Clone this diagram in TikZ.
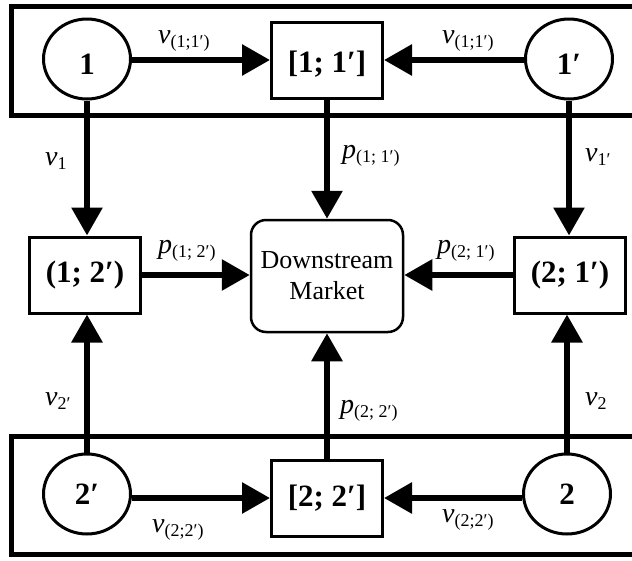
\documentclass[tikz,border=0pt]{standalone}
\usepackage{fontspec}
\setmainfont{Liberation Serif}
\usetikzlibrary{arrows.meta,shapes.geometric}

% font size helper and variable labels (italic symbol with a lowered index)
\newcommand\fsz[1]{\fontsize{#1}{#1}\selectfont}
\newcommand\varlab[2]{{\fsz{28}\itshape #1}\raisebox{-4pt}{\fsz{18}#2}}

\begin{document}
\begin{tikzpicture}[x=1pt,y=-1pt,
  frame/.style={draw, line width=5pt},
  agent/.style={draw, ellipse, line width=3pt, minimum width=87pt,
    minimum height=80pt, inner sep=0pt, font=\fsz{31}\bfseries},
  pairbox/.style={draw, rectangle, line width=3pt, minimum width=111pt,
    minimum height=76pt, inner sep=0pt, font=\fsz{31}\bfseries},
  lowtext/.style={text height=#1, text depth=0pt},
  market/.style={draw, rectangle, rounded corners=15pt, line width=2.5pt,
    minimum width=152pt, minimum height=112pt, align=center,
    font=\fontsize{26}{31}\selectfont},
  flow/.style={line width=6pt, -{Triangle[length=28pt,width=30pt]}},
  lab/.style={anchor=base west, inner sep=0pt}
]
\useasboundingbox (0,0) rectangle (632,560);
\clip (0,0) rectangle (632,560);

% the two coalition frames (open to the right)
\draw[frame] (11,6) rectangle (645,115);
\draw[frame] (11,436) rectangle (645,554);

% top row
\node[agent, lowtext=30pt]   (c1)  at (87,59)  {1};
\node[pairbox, lowtext=25pt] (b11) at (327,60) {[1; 1′]};
\node[agent, lowtext=30pt]   (c1p) at (569,59) {1′};

% middle row
\node[pairbox] (b12) at (85,275)  {(1; 2′)};
\node[market]  (dm)  at (327,276) {Downstream\\Market};
\node[pairbox] (b21) at (570,275) {(2; 1′)};

% bottom row
\node[agent]   (c2p) at (87,494)  {2′};
\node[pairbox] (b22) at (327,498) {[2; 2′]};
\node[agent]   (c2)  at (567,494) {2};

% connectors
\draw[flow] (c1.east |- b11.west) -- (b11.west);
\draw[flow] (c1p.west |- b11.east) -- (b11.east);
\draw[flow] (c1) -- (c1 |- b12.north);
\draw[flow] (c1p) -- (c1p |- b21.north);
\draw[flow] (b11) -- (b11 |- dm.north);
\draw[flow] (b12) -- (b12 -| dm.west);
\draw[flow] (b21) -- (b21 -| dm.east);
\draw[flow] (c2p) -- (c2p |- b12.south);
\draw[flow] (c2) -- (c2 |- b21.south);
\draw[flow] (b22) -- (b22 |- dm.south);
\draw[flow] (c2p.east |- b22.west) -- (b22.west);
\draw[flow] (c2.west |- b22.east) -- (b22.east);

% labels
\node[lab] (l1)  at (158,43)  {\varlab{v}{(1;1′)}};
\node[lab] (l2)  at (442,43)  {\varlab{v}{(1;1′)}};
\node[lab] (l3)  at (45,165)  {\varlab{v}{1}};
\node[lab] (l4)  at (342,158) {\varlab{p}{(1; 1′)}};
\node[lab] (l5)  at (585,161) {\varlab{v}{1′}};
\node[lab] (l6)  at (158,253) {\varlab{p}{(1; 2′)}};
\node[lab] (l7)  at (437,253) {\varlab{p}{(2; 1′)}};
\node[lab] (l8)  at (45,405)  {\varlab{v}{2′}};
\node[lab] (l9)  at (340,413) {\varlab{p}{(2; 2′)}};
\node[lab] (l10) at (585,405) {\varlab{v}{2}};
\node[lab] (l11) at (152,532) {\varlab{v}{(2;2′)}};
\node[lab] (l12) at (442,522) {\varlab{v}{(2;2′)}};
\end{tikzpicture}
\end{document}
